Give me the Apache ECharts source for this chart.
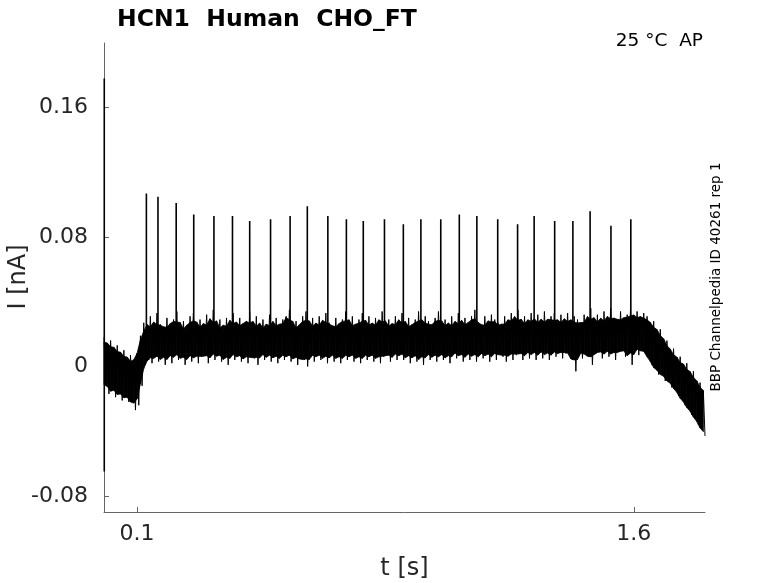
<!DOCTYPE html>
<html><head><meta charset="utf-8">
<script src="https://cdn.jsdelivr.net/npm/echarts@6/dist/echarts.min.js"></script>
<style>html,body{margin:0;padding:0;background:#fff}#c{width:778px;height:583px}</style>
</head><body><div id="c"></div>
<script>
// noisy current band, sampled every 0.01 s from t = 0 (upper / lower envelope, nA)
const bandStart = 0;
const bandStep = 0.01;
const bandHi = [
0.018,0.014,0.016,0.011,0.013,0.008,0.010,0.005,0.007,0.002,
0.008,0.019,0.027,0.024,0.031,0.023,0.033,0.026,0.022,0.030,
0.025,0.029,0.034,0.024,0.028,0.022,0.031,0.033,0.025,0.029,
0.023,0.032,0.026,0.035,0.025,0.029,0.022,0.030,0.027,0.033,
0.024,0.030,0.026,0.028,0.034,0.023,0.031,0.025,0.029,0.022,
0.032,0.026,0.030,0.024,0.029,0.031,0.035,0.025,0.028,0.023,
0.031,0.034,0.025,0.030,0.024,0.031,0.026,0.033,0.027,0.023,
0.030,0.025,0.029,0.034,0.026,0.031,0.023,0.029,0.033,0.026,
0.031,0.024,0.030,0.027,0.034,0.026,0.029,0.024,0.031,0.027,
0.033,0.025,0.030,0.023,0.029,0.034,0.026,0.031,0.028,0.024,
0.030,0.034,0.026,0.029,0.025,0.031,0.024,0.033,0.027,0.030,
0.025,0.031,0.035,0.027,0.024,0.031,0.026,0.032,0.029,0.027,
0.025,0.031,0.027,0.033,0.029,0.035,0.026,0.031,0.027,0.033,
0.028,0.032,0.026,0.034,0.027,0.031,0.033,0.026,0.032,0.028,
0.033,0.027,0.031,0.029,0.025,0.032,0.029,0.036,0.027,0.032,
0.028,0.034,0.027,0.036,0.030,0.028,0.034,0.029,0.032,0.035,
0.031,0.034,0.030,0.033,0.031,0.027,0.028,0.022,0.023,0.017,
0.016,0.010,0.011,0.005,0.006,0.001,0.002,-0.004,-0.003,-0.009,-0.010,-0.015
];
const bandLo = [
-0.010,-0.017,-0.013,-0.019,-0.015,-0.021,-0.018,-0.022,-0.020,-0.027,
-0.024,-0.012,0.001,0.004,0.002,0.007,0.003,0.006,0.001,0.007,
0.002,0.008,0.004,0.007,0.001,0.006,0.003,0.008,0.002,0.006,
0.008,0.002,0.007,0.004,0.009,0.003,0.006,0.001,0.007,0.004,
0.008,0.003,0.006,0.002,0.007,0.005,0.001,0.008,0.004,0.007,
0.003,0.008,0.002,0.006,0.004,0.008,0.003,0.007,0.001,0.006,
0.004,0.000,0.007,0.003,0.008,0.004,0.006,0.002,0.008,0.003,
0.007,0.002,0.006,0.004,0.008,0.003,0.007,0.002,0.006,0.004,
0.008,0.003,0.007,0.002,0.006,0.008,0.003,0.007,0.004,0.009,
0.004,0.007,0.002,0.008,0.003,0.006,0.001,0.008,0.004,0.007,
0.003,0.008,0.004,0.007,0.002,0.008,0.005,0.009,0.003,0.007,
0.004,0.009,0.003,0.007,0.005,0.009,0.003,0.008,0.004,0.009,
0.006,0.003,0.009,0.004,0.007,0.009,0.004,0.008,0.005,0.010,
0.004,0.009,0.005,0.010,0.004,0.008,0.006,0.010,0.005,0.008,
0.010,0.004,-0.003,0.008,0.005,0.009,0.006,0.001,0.008,0.010,
0.005,0.009,0.006,0.010,0.004,0.009,0.010,0.006,0.010,0.001,
0.011,0.007,0.011,0.008,0.006,0.001,-0.001,-0.005,-0.004,-0.009,
-0.008,-0.013,-0.013,-0.018,-0.020,-0.024,-0.025,-0.030,-0.031,-0.036,-0.038,-0.043
];
// action-potential-like spikes (time s, peak nA)
const spikeT = [0.128,0.163,0.218,0.271,0.332,0.388,0.440,0.503,0.562,0.614,0.676,0.732,0.783,
  0.847,0.904,0.957,1.017,1.073,1.126,1.189,1.249,1.299,1.361,1.416,1.468,1.531,1.591];
const spikePeak = [0.107,0.105,0.101,0.094,0.093,0.093,0.090,0.091,0.093,0.099,0.093,0.091,0.090,
  0.091,0.088,0.091,0.091,0.094,0.093,0.091,0.088,0.093,0.090,0.090,0.096,0.087,0.091];
const spikeBase = 0.024;
// stimulus onset transient (time s, min / max nA)
const transientT = 0.0008;
const transientI = [-0.065, 0.178];
const xTicks = [0.1, 1.6];
const yTicks = [-0.08, 0, 0.08, 0.16];

const n = bandHi.length;
const bandT = bandHi.map((_, i) => +(bandStart + i * bandStep).toFixed(4));
// solid core of the band: local mean of the envelope, pulled slightly inward
const coreData = bandT.map((t, i) => {
  const j0 = Math.max(0, i - 1), j1 = Math.min(n - 1, i + 1);
  const hi = (bandHi[j0] + bandHi[i] + bandHi[j1]) / 3 - 0.0015;
  const lo = (bandLo[j0] + bandLo[i] + bandLo[j1]) / 3 + 0.001;
  return [t, Math.min(lo, hi), Math.max(lo, hi)];
});
// the raw trace swings between the samples' extremes
let trace = [];
bandT.forEach((t, i) => { trace.push([t, bandHi[i]], [t + bandStep / 2, bandLo[i]]); });
let spikeData = [[transientT, transientI[0]], [transientT, transientI[1]], [transientT, '-']];
spikeT.forEach((t, i) => { spikeData.push([t, spikeBase], [t, spikePeak[i]], [t, '-']); });

function renderBand(params, api) {
  const i = params.dataIndex;
  if (i >= coreData.length - 1) return null;
  const a = coreData[i], b = coreData[i + 1];
  const pts = [api.coord([a[0], a[2]]), api.coord([b[0], b[2]]), api.coord([b[0], b[1]]), api.coord([a[0], a[1]])];
  return {type: 'polygon', shape: {points: pts}, style: {fill: '#000', stroke: '#000', lineWidth: 0.8}};
}

const font = 'DejaVu Sans';
const chart = echarts.init(document.getElementById('c'), null, {renderer: 'canvas'});
chart.setOption({
  animation: false,
  backgroundColor: '#fff',
  title: {text: 'HCN1  Human  CHO_FT', left: 112, top: 3,
    textStyle: {fontFamily: font, fontWeight: 'bold', fontSize: 23.5, color: '#000'}},
  grid: {left: 104, right: 73, top: 43, bottom: 71, outerBoundsMode: 'none', containLabel: false},
  xAxis: {type: 'value', min: 0, max: 1.815,
    name: 't [s]', nameLocation: 'middle', nameGap: 45, nameMoveOverlap: false,
    nameTextStyle: {fontFamily: font, fontSize: 24, color: '#262626'},
    axisLine: {show: true, onZero: false, lineStyle: {color: '#666', width: 1}},
    axisTick: {show: true, inside: true, length: 5, customValues: xTicks, lineStyle: {color: '#666'}},
    axisLabel: {customValues: xTicks, margin: 11, fontFamily: font, fontSize: 22, color: '#262626',
      formatter: v => String(v)},
    splitLine: {show: false}},
  yAxis: {type: 'value', min: -0.09, max: 0.2,
    axisLine: {show: true, onZero: false, lineStyle: {color: '#666', width: 1}},
    axisTick: {show: true, inside: true, length: 5, customValues: yTicks, lineStyle: {color: '#666'}},
    axisLabel: {customValues: yTicks, margin: 16, fontFamily: font, fontSize: 22, color: '#262626',
      formatter: v => (v === 0 ? '0' : String(v))},
    splitLine: {show: false}},
  graphic: [
    {type: 'text', x: 19, y: 277, rotation: Math.PI / 2, style: {text: 'I [nA]', align: 'center',
      verticalAlign: 'middle', font: '24px "DejaVu Sans"', fill: '#262626'}},
    {type: 'text', x: 703, y: 41, style: {text: '25 °C  AP', align: 'right', verticalAlign: 'middle',
      font: '18.5px "DejaVu Sans"', fill: '#000'}},
    {type: 'text', x: 716, y: 277, rotation: Math.PI / 2, style: {text: 'BBP Channelpedia ID 40261 rep 1',
      align: 'center', verticalAlign: 'middle', font: '13.5px "DejaVu Sans"', fill: '#000'}}
  ],
  series: [
    {type: 'custom', data: coreData, renderItem: renderBand, encode: {x: 0, y: [1, 2]}, silent: true, z: 1},
    {type: 'line', data: trace, showSymbol: false, lineStyle: {color: '#000', width: 1}, silent: true, z: 2},
    {type: 'line', data: spikeData, showSymbol: false, connectNulls: false,
      lineStyle: {color: '#000', width: 1.6}, silent: true, z: 3}
  ]
});
</script></body></html>
